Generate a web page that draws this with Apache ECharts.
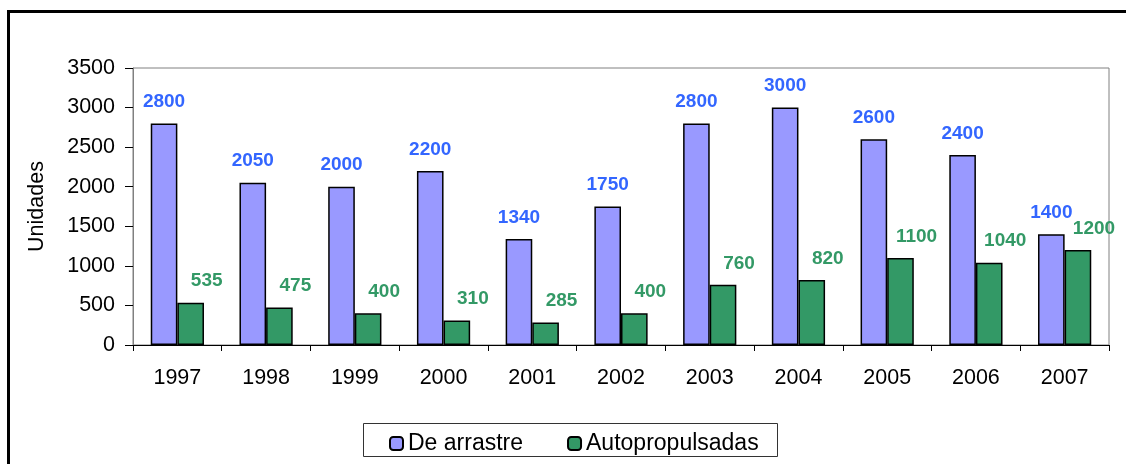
<!DOCTYPE html>
<html>
<head>
<meta charset="utf-8">
<script src="https://cdn.jsdelivr.net/npm/echarts@6/dist/echarts.min.js"></script>
<style>
  html, body { margin: 0; padding: 0; background: #fff; }
  #container { width: 1126px; height: 464px; }
</style>
</head>
<body>
<div id="container"></div>
<script>
// datos
const years = ['1997', '1998', '1999', '2000', '2001', '2002', '2003', '2004', '2005', '2006', '2007'];
const deArrastre = [2800, 2050, 2000, 2200, 1340, 1750, 2800, 3000, 2600, 2400, 1400];
const autopropulsadas = [535, 475, 400, 310, 285, 400, 760, 820, 1100, 1040, 1200];

const font = 'Liberation Sans, Arial, sans-serif';

var dom = document.getElementById('container');
var myChart = echarts.init(dom, null, { renderer: 'canvas' });

var option = {
  animation: false,
  textStyle: { fontFamily: font },
  graphic: [
    {
      type: 'rect',
      shape: { x: 8.5, y: 11.5, width: 1130, height: 470 },
      style: { fill: 'none', stroke: '#000', lineWidth: 3 }
    },
    {
      type: 'rect',
      shape: { x: 363.5, y: 423.5, width: 414, height: 33 },
      style: { fill: '#fff', stroke: '#333', lineWidth: 1 },
      z: -1
    }
  ],
  grid: {
    left: 133,
    top: 68,
    right: 17,
    bottom: 119,
    show: true,
    borderColor: '#808080',
    borderWidth: 1
  },
  legend: {
    left: 384,
    top: 427,
    itemWidth: 13,
    itemHeight: 13,
    itemGap: 44,
    textStyle: { fontSize: 23, color: '#000', fontFamily: font },
    data: ['De arrastre', 'Autopropulsadas']
  },
  xAxis: {
    type: 'category',
    data: years,
    axisLine: { lineStyle: { color: '#000', width: 1 } },
    axisTick: { show: true, length: 6, lineStyle: { color: '#000' } },
    axisLabel: { fontSize: 21.5, color: '#000', margin: 22, fontFamily: font }
  },
  yAxis: {
    type: 'value',
    min: 0,
    max: 3500,
    interval: 500,
    name: 'Unidades',
    nameLocation: 'middle',
    nameGap: 85,
    nameRotate: 90,
    nameTextStyle: { fontSize: 21.5, color: '#000', fontFamily: font },
    axisLine: { show: true, lineStyle: { color: '#808080' } },
    axisTick: { show: true, length: 8, lineStyle: { color: '#000' } },
    axisLabel: {
      fontSize: 21.5,
      color: '#000',
      margin: 18,
      fontFamily: font,
      formatter: function (v) { return String(v); }
    },
    splitLine: { show: false }
  },
  series: [
    {
      name: 'De arrastre',
      type: 'bar',
      data: deArrastre,
      barGap: '0%',
      barCategoryGap: '40%',
      itemStyle: { color: '#9999FF', borderColor: '#000', borderWidth: 1.5 },
      label: {
        show: true,
        position: 'top',
        distance: 12,
        color: '#3366FF',
        fontWeight: 'bold',
        fontSize: 19,
        fontFamily: font
      }
    },
    {
      name: 'Autopropulsadas',
      type: 'bar',
      data: autopropulsadas,
      itemStyle: { color: '#339966', borderColor: '#000', borderWidth: 1.5 },
      label: {
        show: true,
        position: 'top',
        distance: 12,
        offset: [16, 0],
        color: '#339966',
        fontWeight: 'bold',
        fontSize: 19,
        fontFamily: font
      }
    }
  ]
};

if (option && typeof option === 'object') {
  myChart.setOption(option);
}
</script>
</body>
</html>
